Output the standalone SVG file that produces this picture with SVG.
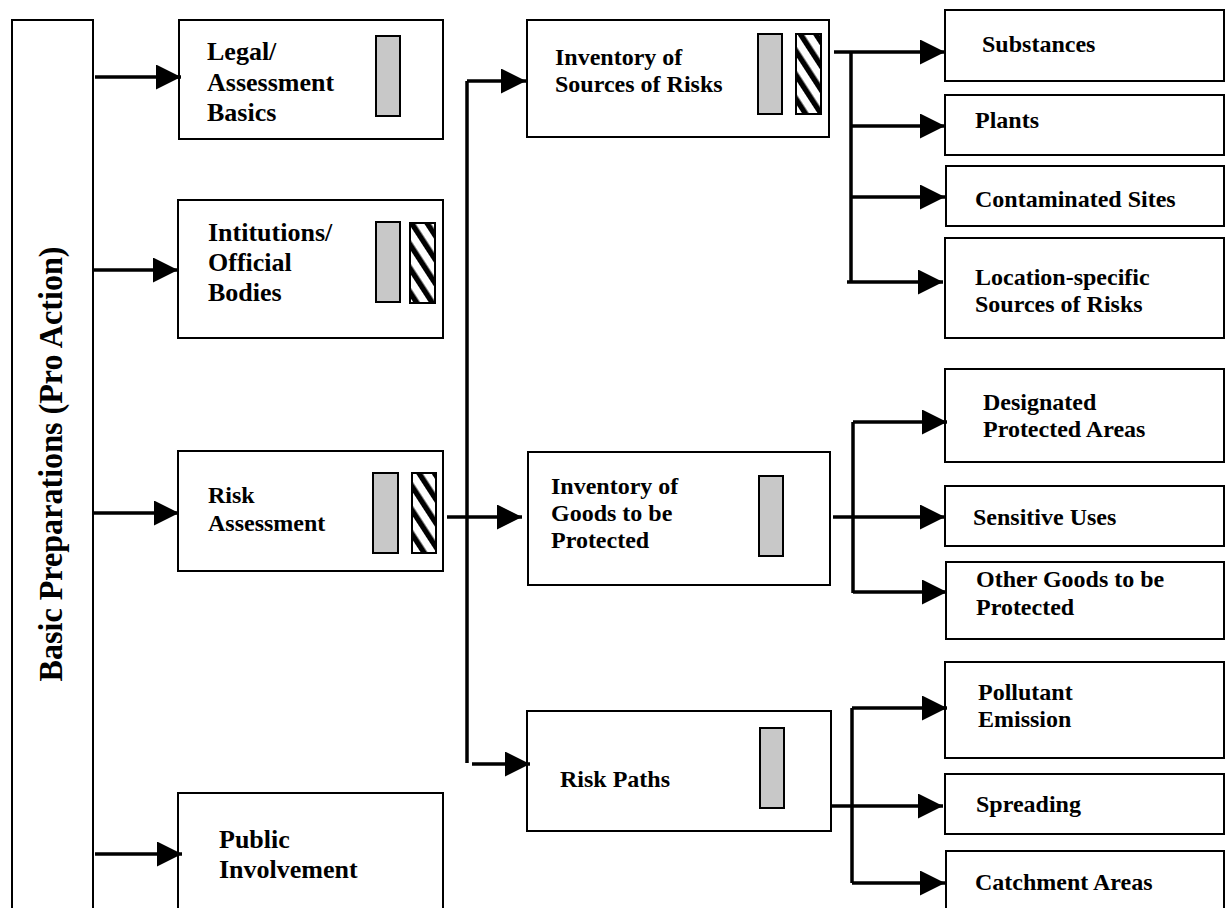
<svg xmlns="http://www.w3.org/2000/svg" width="1226" height="908" viewBox="0 0 1226 908">
<defs>
<style>
.box{fill:#fff;stroke:#000;stroke-width:2}
.bar{fill:#c8c8c8;stroke:#000;stroke-width:2}
.hatch{fill:url(#hatch);stroke:#000;stroke-width:2}
.conn{fill:none;stroke:#000;stroke-width:3.5}
.arr{marker-end:url(#ah)}
text{font-family:"Liberation Serif","Times New Roman",serif;font-weight:bold;fill:#000}
.t26{font-size:26px}
.t24{font-size:24px}
.t33{font-size:33px}
</style>
<pattern id="hatch" patternUnits="userSpaceOnUse" width="13" height="13" patternTransform="rotate(-33)">
<rect width="13" height="13" fill="#fff"/>
<rect width="5.5" height="13" fill="#000"/>
</pattern>
<marker id="ah" markerUnits="userSpaceOnUse" markerWidth="26" markerHeight="26" refX="25" refY="12.5" orient="auto">
<path d="M0,0 L25,12.5 L0,25 Z" fill="#000"/>
</marker>
</defs>
<rect width="1226" height="908" fill="#fff"/>

<g id="basic-preparations">
<rect class="box" x="12" y="20" width="81" height="920"/>
<text class="t33" transform="translate(62,464) rotate(-90)" text-anchor="middle" textLength="435" lengthAdjust="spacingAndGlyphs">Basic Preparations (Pro Action)</text>
</g>

<g id="legal">
<rect class="box" x="179" y="20" width="264" height="119"/>
<rect class="bar" x="376" y="36" width="24" height="80"/>
<text class="t26" x="207" y="60">Legal/</text>
<text class="t26" x="207" y="91">Assessment</text>
<text class="t26" x="207" y="121">Basics</text>
</g>

<g id="institutions">
<rect class="box" x="178" y="200" width="265" height="138"/>
<rect class="bar" x="376" y="222" width="24" height="80"/>
<rect class="hatch" x="410" y="223" width="25" height="80"/>
<text class="t26" x="208" y="241">Intitutions/</text>
<text class="t26" x="208" y="271">Official</text>
<text class="t26" x="208" y="301">Bodies</text>
</g>

<g id="risk-assessment">
<rect class="box" x="178" y="451" width="265" height="120"/>
<rect class="bar" x="373" y="473" width="25" height="80"/>
<rect class="hatch" x="412" y="473" width="24" height="80"/>
<text class="t24" x="208" y="503">Risk</text>
<text class="t24" x="208" y="531">Assessment</text>
</g>

<g id="public-involvement">
<rect class="box" x="178" y="793" width="265" height="150"/>
<text class="t26" x="219" y="848">Public</text>
<text class="t26" x="219" y="878">Involvement</text>
</g>

<g id="sources">
<rect class="box" x="527" y="20" width="302" height="117"/>
<rect class="bar" x="758" y="34" width="24" height="80"/>
<rect class="hatch" x="796" y="34" width="25" height="80"/>
<text class="t24" x="555" y="65">Inventory of</text>
<text class="t24" x="555" y="92">Sources of Risks</text>
</g>

<g id="goods">
<rect class="box" x="528" y="452" width="302" height="133"/>
<rect class="bar" x="759" y="476" width="24" height="80"/>
<text class="t24" x="551" y="494">Inventory of</text>
<text class="t24" x="551" y="521">Goods to be</text>
<text class="t24" x="551" y="548">Protected</text>
</g>

<g id="risk-paths">
<rect class="box" x="527" y="711" width="304" height="120"/>
<rect class="bar" x="760" y="728" width="24" height="80"/>
<text class="t24" x="560" y="787">Risk Paths</text>
</g>

<g id="substances">
<rect class="box" x="945" y="10" width="279" height="71"/>
<text class="t24" x="982" y="52">Substances</text>
</g>
<g id="plants">
<rect class="box" x="945" y="95" width="279" height="60"/>
<text class="t24" x="975" y="128">Plants</text>
</g>
<g id="contaminated">
<rect class="box" x="946" y="166" width="278" height="60"/>
<text class="t24" x="975" y="207">Contaminated Sites</text>
</g>
<g id="location">
<rect class="box" x="945" y="238" width="279" height="100"/>
<text class="t24" x="975" y="285">Location-specific</text>
<text class="t24" x="975" y="312">Sources of Risks</text>
</g>
<g id="designated">
<rect class="box" x="945" y="369" width="279" height="93"/>
<text class="t24" x="983" y="410">Designated</text>
<text class="t24" x="983" y="437">Protected Areas</text>
</g>
<g id="sensitive">
<rect class="box" x="945" y="486" width="279" height="60"/>
<text class="t24" x="973" y="525">Sensitive Uses</text>
</g>
<g id="other-goods">
<rect class="box" x="946" y="562" width="278" height="77"/>
<text class="t24" x="976" y="587">Other Goods to be</text>
<text class="t24" x="976" y="615">Protected</text>
</g>
<g id="pollutant">
<rect class="box" x="945" y="662" width="279" height="96"/>
<text class="t24" x="978" y="700">Pollutant</text>
<text class="t24" x="978" y="727">Emission</text>
</g>
<g id="spreading">
<rect class="box" x="945" y="774" width="279" height="60"/>
<text class="t24" x="976" y="812">Spreading</text>
</g>
<g id="catchment">
<rect class="box" x="946" y="851" width="278" height="80"/>
<text class="t24" x="975" y="890">Catchment Areas</text>
</g>

<g id="connectors">
<path class="conn arr" d="M95,77 H181"/>
<path class="conn arr" d="M93,270 H178"/>
<path class="conn arr" d="M93,513 H179"/>
<path class="conn arr" d="M95,854 H182"/>

<path class="conn arr" d="M447,517 H522"/>
<path class="conn" d="M467,81 V763"/>
<path class="conn arr" d="M467,81 H526"/>
<path class="conn arr" d="M472,764 H530"/>

<path class="conn arr" d="M834,52 H945"/>
<path class="conn" d="M851,52 V283"/>
<path class="conn arr" d="M851,126 H945"/>
<path class="conn arr" d="M851,197 H945"/>
<path class="conn arr" d="M847,282 H943"/>

<path class="conn arr" d="M833,517 H945"/>
<path class="conn" d="M853,422 V593"/>
<path class="conn arr" d="M853,422 H947"/>
<path class="conn arr" d="M853,592 H947"/>

<path class="conn arr" d="M831,806 H943"/>
<path class="conn" d="M852,708 V883"/>
<path class="conn arr" d="M852,708 H947"/>
<path class="conn arr" d="M852,883 H945"/>
</g>
</svg>
